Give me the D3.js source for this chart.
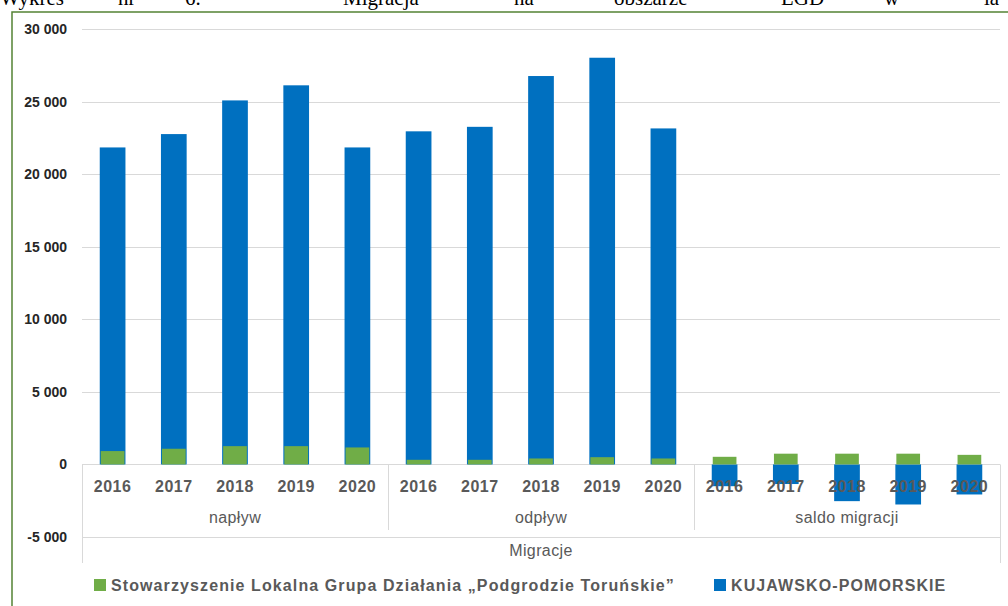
<!DOCTYPE html>
<html>
<head>
<meta charset="utf-8">
<script src="https://cdn.jsdelivr.net/npm/d3@7"></script>
<style>
  body { margin: 0; background: #fff; }
  svg { display: block; }
</style>
</head>
<body>
<svg id="chart" width="1008" height="606"></svg>
<script>
// data
var years = ["2016", "2017", "2018", "2019", "2020"];
var groups = ["napływ", "odpływ", "saldo migracji"];
var lgdValues = [920, 1080, 1260, 1260, 1170,   320, 320, 410, 500, 410,   525, 740, 740, 740, 660];
var kpValues = [21840, 22760, 25080, 26120, 21840,   22950, 23260, 26760, 28020, 23150,   -1500, -1350, -2530, -2760, -2070];
var yTicks = [-5000, 0, 5000, 10000, 15000, 20000, 25000, 30000];
var seriesNames = ["Stowarzyszenie Lokalna Grupa Działania \u201ePodgrodzie Toruńskie\u201d", "KUJAWSKO-POMORSKIE"];
var outerLabel = "Migracje";
// cut off text of the page above the chart
var pageWords = [["Wykres", 0], ["nr", 118], ["6.", 185], ["Migracja", 343], ["na", 514], ["obszarze", 614], ["LGD", 781], ["w", 884], ["la", 984]];

var green = "#70ad47", blue = "#0070c0";

var svg = d3.select("#chart");

// page text, only lower part visible
svg.append("g").selectAll("text")
  .data(pageWords)
  .enter().append("text")
  .attr("x", function(d){ return d[1]; })
  .attr("y", 5)
  .style("font-family", "Liberation Serif")
  .style("font-size", "21px")
  .style("fill", "#000")
  .text(function(d){ return d[0]; });

// frame of the picture
svg.append("path")
  .attr("d", "M12,606 L12,12 L1008,12")
  .style("fill", "none")
  .style("stroke", "#548235")
  .style("stroke-width", 1.5);

// one band per year inside each group
var cats = [];
groups.forEach(function(g){ years.forEach(function(y){ cats.push(g + "|" + y); }); });

var x = d3.scaleBand().domain(cats).range([82, 1000]).paddingInner(0.58).paddingOuter(0.29);
var y = d3.scaleLinear().domain([-5000, 30000]).range([537, 29]);

// gridlines
svg.append("g").selectAll("line")
  .data(yTicks)
  .enter().append("line")
  .attr("x1", 82).attr("x2", 1000)
  .attr("y1", function(d){ return Math.round(y(d)) + 0.5; })
  .attr("y2", function(d){ return Math.round(y(d)) + 0.5; })
  .style("stroke", "#d9d9d9")
  .style("stroke-width", 1);

// y axis labels
var yAxis = d3.axisLeft(y).tickValues(yTicks).tickSize(0).tickPadding(0)
  .tickFormat(function(d){ return d3.format(",")(d).replace(/,/g, " ").replace("\u2212", "-"); });
var ya = svg.append("g").attr("transform", "translate(67,0)").call(yAxis);
ya.select(".domain").remove();
ya.selectAll("text")
  .style("font-family", "Liberation Sans")
  .style("font-size", "14px")
  .style("font-weight", "bold")
  .style("fill", "#262626");

// multi level category axis lines
var step = x.step();
var sepX = [82, 82 + 5 * step, 82 + 10 * step, 1000];
svg.append("g").selectAll("line")
  .data(sepX)
  .enter().append("line")
  .attr("x1", function(d){ return Math.round(d) + 0.5; })
  .attr("x2", function(d){ return Math.round(d) + 0.5; })
  .attr("y1", y(0))
  .attr("y2", function(d, i){ return (i == 0 || i == 3) ? 563 : 530; })
  .style("stroke", "#d9d9d9")
  .style("stroke-width", 1);

// bars: blue behind, green in front
function barY(v){ return Math.min(y(v), y(0)); }
function barH(v){ return Math.abs(y(v) - y(0)); }

svg.append("g").selectAll("rect")
  .data(kpValues)
  .enter().append("rect")
  .attr("x", function(d, i){ return x(cats[i]); })
  .attr("width", x.bandwidth())
  .attr("y", function(d){ return barY(d); })
  .attr("height", function(d){ return barH(d); })
  .style("fill", blue);

svg.append("g").selectAll("rect")
  .data(lgdValues)
  .enter().append("rect")
  .attr("x", function(d, i){ return x(cats[i]) + 1; })
  .attr("width", x.bandwidth() - 2)
  .attr("y", function(d){ return barY(d); })
  .attr("height", function(d){ return barH(d); })
  .style("fill", green);

// year labels
svg.append("g").selectAll("text")
  .data(cats)
  .enter().append("text")
  .attr("x", function(d){ return x(d) + x.bandwidth() / 2; })
  .attr("y", 492)
  .attr("text-anchor", "middle")
  .style("font-family", "Liberation Sans")
  .style("font-size", "16px")
  .style("font-weight", "bold")
  .style("letter-spacing", "0.5px")
  .style("fill", "#595959")
  .text(function(d){ return d.split("|")[1]; });

// group labels
svg.append("g").selectAll("text")
  .data(groups)
  .enter().append("text")
  .attr("x", function(d, i){ return 82 + (i * 5 + 2.5) * step; })
  .attr("y", 523)
  .attr("text-anchor", "middle")
  .style("font-family", "Liberation Sans")
  .style("font-size", "16px")
  .style("letter-spacing", "0.4px")
  .style("fill", "#595959")
  .text(function(d){ return d; });

svg.append("text")
  .attr("x", 541)
  .attr("y", 556)
  .attr("text-anchor", "middle")
  .style("font-family", "Liberation Sans")
  .style("font-size", "16px")
  .style("letter-spacing", "0.4px")
  .style("fill", "#595959")
  .text(outerLabel);

// legend
var legend = svg.append("g").selectAll("g")
  .data(seriesNames)
  .enter().append("g")
  .attr("transform", function(d, i){ return "translate(" + (i == 0 ? 94 : 714) + ",0)"; });

legend.append("rect")
  .attr("x", 0).attr("y", 579)
  .attr("width", 12).attr("height", 12)
  .style("fill", function(d, i){ return i == 0 ? green : blue; });

legend.append("text")
  .attr("x", 17).attr("y", 591)
  .style("font-family", "Liberation Sans")
  .style("font-size", "16px")
  .style("font-weight", "bold")
  .style("letter-spacing", "1.1px")
  .style("fill", "#595959")
  .text(function(d){ return d; });
</script>
</body>
</html>
